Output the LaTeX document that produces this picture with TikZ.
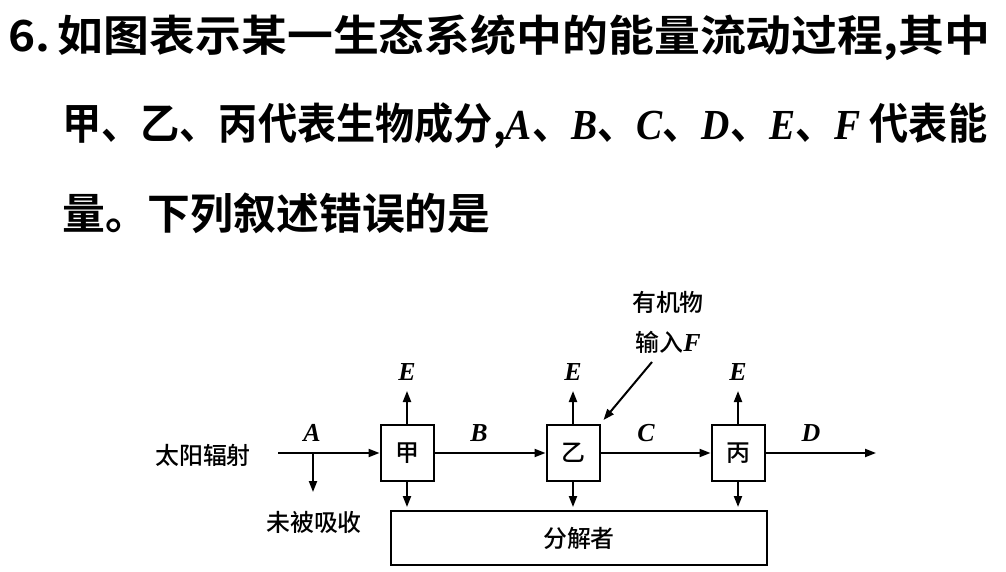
\documentclass[tikz,border=0pt]{standalone}
\usepackage{fontspec}
\usepackage{graphicx}
\newfontfamily\cjk{Noto Sans CJK SC Medium}
\newfontfamily\cjkb{Noto Sans CJK SC Bold}
\newfontfamily\lat[ItalicFont={Liberation Serif Italic},BoldItalicFont={Liberation Serif Bold Italic}]{Liberation Serif}
\usetikzlibrary{arrows.meta}
\begin{document}
\begin{tikzpicture}[x=1bp,y=-1bp,
  arr/.style={-{Triangle[length=11bp,width=8bp]},line width=2bp},
  box/.style={draw,line width=2bp,minimum width=53bp,minimum height=56bp,inner sep=0,font=\cjk\fontsize{24}{24}\selectfont},
  lbl/.style={font=\lat\fontsize{26}{26}\selectfont\itshape\bfseries,inner sep=0},
  cj/.style={font=\cjk\fontsize{24}{24}\selectfont,inner sep=0},
  q/.style={anchor=west,inner sep=0,font=\cjkb\fontsize{43}{43}\selectfont}]
\useasboundingbox (0,0) rectangle (1006,572);
\node[q] (l1) at (8,38) {\resizebox{982bp}{\height}{6.\,如图表示某一生态系统中的能量流动过程,其中}};
\node[q] (l2) at (62,126) {\resizebox{925bp}{\height}{甲、乙、丙代表生物成分,{\lat\itshape\bfseries A}、{\lat\itshape\bfseries B}、{\lat\itshape\bfseries C}、{\lat\itshape\bfseries D}、{\lat\itshape\bfseries E}、{\lat\itshape\bfseries F} 代表能}};
\node[q] (l3) at (62,213) {量。下列叙述错误的是};
\node[cj] (sun) at (203,455) {太阳辐射};
\node[box] (jia) at (407,453) {甲};
\node[box] (yi) at (573,453) {乙};
\node[box] (bing) at (738,453) {丙};
\node[draw,line width=2bp,minimum width=376bp,minimum height=54bp,inner sep=0,cj] (dec) at (579,538) {分解者};
\node[cj] (wb) at (314,522) {未被吸收};
\coordinate (s0) at (278,453);
\coordinate (ad) at (313,453);
\coordinate (ae) at (313,492);
\coordinate (dend) at (876,453);
\draw[arr] (s0) -- (jia.west);
\draw[arr] (ad) -- (ae);
\draw[arr] (jia) -- (yi);
\draw[arr] (yi) -- (bing);
\draw[arr] (bing) -- (dend);
\node[lbl] at (312,433) {A};
\node[lbl] at (479,433) {B};
\node[lbl] at (646,433) {C};
\node[lbl] at (811,433) {D};
\foreach \n in {jia,yi,bing}{
  \coordinate (\n e) at ([yshift=33bp]\n.north);
  \draw[arr] (\n.north) -- (\n e);
  \node[lbl] at ([yshift=52bp]\n.north) {E};
  \coordinate (\n d) at (\n.south |- dec.north);
  \draw[arr] (\n.south) -- ([yshift=3bp]\n d);
}
\node[cj,anchor=center] (org) at (668,302) {有机物};
\node[cj] (inp) at (668,342) {输入{\lat\fontsize{26}{26}\selectfont\itshape\bfseries F}};
\coordinate (f0) at (652,362);
\draw[arr] (f0) -- ([shift={(3bp,4bp)}]yi.north east);
\end{tikzpicture}
\end{document}
